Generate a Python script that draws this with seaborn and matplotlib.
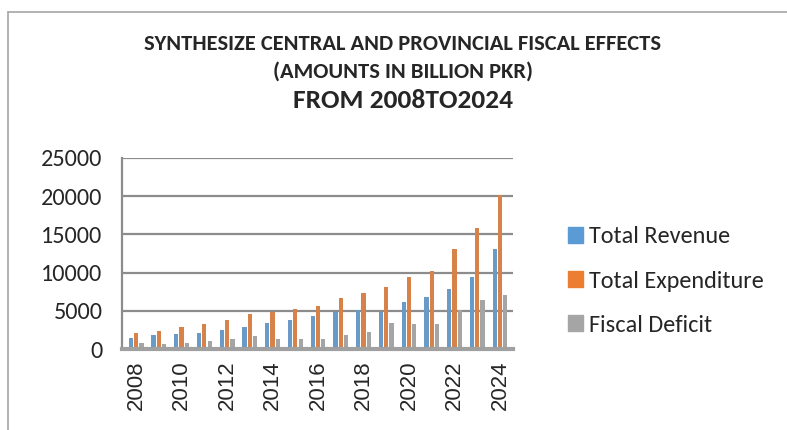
import pandas as pd
import seaborn as sns
import matplotlib.pyplot as plt
from matplotlib.lines import Line2D

years = list(range(2008, 2025))
total_revenue = [1410, 1800, 1970, 2140, 2440, 2860, 3460, 3760, 4300,
                 4870, 5130, 4830, 6170, 6780, 7910, 9480, 13090]
total_expenditure = [2140, 2390, 2900, 3290, 3760, 4620, 4870, 5210, 5650,
                     6700, 7350, 8170, 9480, 10170, 13090, 15870, 20220]
fiscal_deficit = [730, 640, 810, 1110, 1280, 1750, 1280, 1370, 1300,
                  1830, 2170, 3390, 3300, 3300, 5130, 6430, 7090]
series = ["Total Revenue", "Total Expenditure", "Fiscal Deficit"]
colors = ["#5B9BD5", "#ED7D31", "#A5A5A5"]

df = pd.DataFrame({"Year": years,
                   series[0]: total_revenue,
                   series[1]: total_expenditure,
                   series[2]: fiscal_deficit})
long_df = df.melt(id_vars="Year", var_name="Series", value_name="Value")
long_df["Year"] = long_df["Year"].astype(str)

sns.set_style("white")
plt.rcParams['font.family'] = ['Carlito', 'Lato', 'DejaVu Sans']

fig = plt.figure(figsize=(7.87, 4.3), dpi=100)
ax = fig.add_axes([122 / 787, 1 - 349 / 430, 391 / 787, 191 / 430])

sns.barplot(data=long_df, x="Year", y="Value", hue="Series",
            palette=colors, width=0.7, gap=0.2, ax=ax, legend=False,
            linewidth=0)

ax.set_ylim(0, 25000)
ax.set_xlim(-0.62, 16.57)
ax.set_yticks(range(0, 25001, 5000))
ax.set_yticklabels([str(v) for v in range(0, 25001, 5000)], fontsize=17.5)
ax.yaxis.grid(True, color="#8C8C8C", linewidth=1.6)
ax.set_axisbelow(True)
ax.tick_params(axis="y", length=0, pad=14)
ax.tick_params(axis="x", length=0, pad=8)

xt = list(range(0, 17, 2))
ax.set_xticks(xt)
ax.set_xticklabels([str(years[i]) for i in xt], rotation=90,
                   family="Liberation Sans", fontsize=16)
ax.set_xlabel("")
ax.set_ylabel("")
for s in ["top", "right"]:
    ax.spines[s].set_visible(False)
ax.spines["left"].set_color("#8C8C8C")
ax.spines["left"].set_linewidth(1.6)
ax.spines["bottom"].set_color("#A0A0A0")
ax.spines["bottom"].set_linewidth(3)

handles = [plt.Rectangle((0, 0), 1, 1, color=c) for c in colors]
fig.legend(handles, series, loc="center left",
           bbox_to_anchor=(546 / 787, 1 - 281 / 430), frameon=False,
           fontsize=17.5, handlelength=0.62, handleheight=0.62,
           handletextpad=0.25, labelspacing=0.95)

# Excel centres the title over the whole chart area
fig.text(403 / 787, 1 - 44 / 430,
         "SYNTHESIZE CENTRAL AND PROVINCIAL FISCAL EFFECTS",
         ha="center", va="center", fontsize=16.2, fontweight="bold")
fig.text(403 / 787, 1 - 72 / 430, "(AMOUNTS IN BILLION PKR)",
         ha="center", va="center", fontsize=16.2, fontweight="bold")
fig.text(403 / 787, 1 - 101 / 430, "FROM 2008TO2024",
         ha="center", va="center", fontsize=19.7, fontweight="bold")

# chart area border (top and left edges visible)
fig.add_artist(Line2D([8 / 787, 1], [1 - 12 / 430, 1 - 12 / 430],
                      color="#A6A6A6", linewidth=1.2))
fig.add_artist(Line2D([8 / 787, 8 / 787], [0, 1 - 12 / 430],
                      color="#A6A6A6", linewidth=1.2))

fig.savefig("out.png", dpi=100)
